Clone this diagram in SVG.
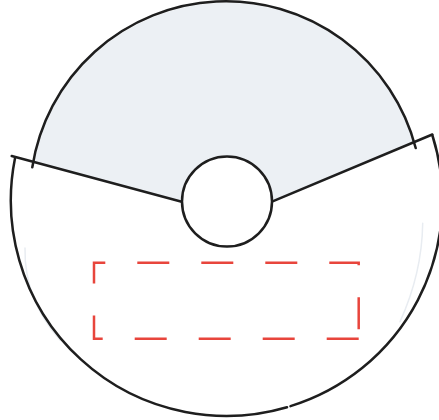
<svg xmlns="http://www.w3.org/2000/svg" width="439" height="420" viewBox="0 0 439 420">
  <style>
    .ink { fill: none; stroke: #1e1e1e; stroke-width: 2.5; stroke-linecap: round; stroke-linejoin: round; }
    .ghost { fill: none; stroke: #e8ecf1; stroke-width: 1.5; stroke-linecap: round; }
    .shade { fill: #ecf0f4; stroke: none; }
    .dash { fill: none; stroke: #e8453c; stroke-width: 2.5; stroke-dasharray: 32 32; }
  </style>
  <rect width="439" height="420" fill="#ffffff"/>
  <g id="upper-sector">
    <path class="shade" d="M34,162 A196 196 0 0 1 414,141.5 L272,201.7 L181.7,201.7 Z"/>
    <path class="ink" d="M32.3,167.3 A196 196 0 0 1 415.7,148"/>
  </g>
  <g id="lower-sector">
    <path class="ghost" d="M25,248 Q24,299 60,340"/>
    <path class="ghost" d="M422.7,223.3 Q422,273.5 400,321.7"/>
    <path class="ink" d="M15,158.3 A215.5 215.5 0 0 0 287,407.2"/>
    <path class="ink" d="M290.5,406.1 A215.5 215.5 0 0 0 432.3,135"/>
  </g>
  <g id="connectors">
    <path class="ink" d="M11.7,156 L181.7,201.7"/>
    <path class="ink" d="M272,201.7 L432.3,134.5"/>
  </g>
  <g id="hub">
    <circle cx="227" cy="201.5" r="45" fill="#ffffff" stroke="#1e1e1e" stroke-width="2.5"/>
  </g>
  <g id="highlight-box">
    <path class="dash" d="M358.7,338.7 H94 V262.7 H358.7 Z"/>
  </g>
</svg>
